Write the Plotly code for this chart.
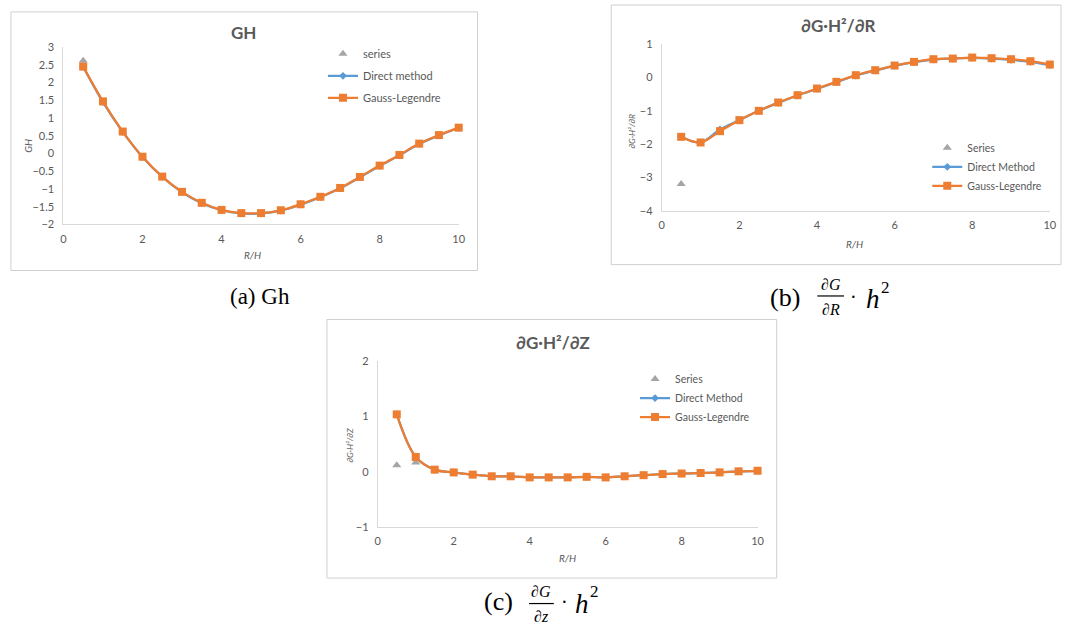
import plotly.graph_objects as go

W, H = 1069, 636

# ---------------- data ----------------
x_rh = [0.5, 1.0, 1.5, 2.0, 2.5, 3.0, 3.5, 4.0, 4.5, 5.0,
        5.5, 6.0, 6.5, 7.0, 7.5, 8.0, 8.5, 9.0, 9.5, 10.0]

# (a) GH
gh_gauss = [2.45, 1.47, 0.62, -0.09, -0.65, -1.08, -1.39, -1.59, -1.68, -1.68,
            -1.60, -1.43, -1.22, -0.97, -0.66, -0.34, -0.04, 0.28, 0.52, 0.73]
gh_direct = [2.45, 1.45, 0.61, -0.10, -0.66, -1.09, -1.40, -1.60, -1.69, -1.69,
             -1.61, -1.44, -1.23, -0.98, -0.67, -0.35, -0.05, 0.27, 0.51, 0.72]
gh_series_x = [0.5]
gh_series_y = [2.62]

# (b) dG*H^2/dR
dr_gauss = [-1.78, -1.95, -1.61, -1.28, -1.00, -0.75, -0.53, -0.33, -0.13, 0.07,
            0.22, 0.36, 0.47, 0.55, 0.57, 0.60, 0.58, 0.55, 0.49, 0.39]
dr_direct = [-1.78, -1.95, -1.56, -1.28, -1.00, -0.76, -0.54, -0.34, -0.14, 0.06,
             0.21, 0.35, 0.46, 0.54, 0.57, 0.59, 0.57, 0.53, 0.47, 0.37]
dr_series_x = [0.5]
dr_series_y = [-3.20]

# (c) dG*H^2/dZ
dz_gauss = [1.04, 0.27, 0.04, -0.01, -0.05, -0.08, -0.08, -0.10, -0.10, -0.10,
            -0.09, -0.10, -0.08, -0.06, -0.04, -0.03, -0.02, -0.01, 0.01, 0.02]
dz_direct = [1.04, 0.27, 0.04, -0.01, -0.05, -0.08, -0.08, -0.10, -0.10, -0.10,
             -0.09, -0.10, -0.08, -0.06, -0.04, -0.03, -0.02, -0.01, 0.01, 0.02]
dz_series_x = [0.5, 1.0]
dz_series_y = [0.12, 0.17]

x_ticks = [0, 2, 4, 6, 8, 10]
gh_ticks = [-2, -1.5, -1, -0.5, 0, 0.5, 1, 1.5, 2, 2.5, 3]
dr_ticks = [-4, -3, -2, -1, 0, 1]
dz_ticks = [-1, 0, 1, 2]

# ---------------- style ----------------
GRAY_TXT = "#595959"
AXIS_COL = "#D9D9D9"
BLUE = "#5B9BD5"
ORANGE = "#ED7D31"
TRI = "#A5A5A5"
SANS = "Lato, Open Sans, sans-serif"
SERIF = "Liberation Serif, DejaVu Serif, serif"


def px(x):
    return x / W


def py(y):
    return 1 - y / H


fig = go.Figure()


def add_panel(idx, ys_series_x, ys_series_y, direct, gauss, names, legend):
    xa = "x" if idx == 1 else f"x{idx}"
    ya = "y" if idx == 1 else f"y{idx}"
    fig.add_trace(go.Scatter(
        x=ys_series_x, y=ys_series_y, mode="markers", name=names[0],
        marker=dict(symbol="triangle-up", size=8, color=TRI),
        xaxis=xa, yaxis=ya, legend=legend, legendgroup=f"s{idx}", cliponaxis=False))
    fig.add_trace(go.Scatter(
        x=x_rh, y=direct, mode="lines+markers", name=names[1],
        line=dict(color=BLUE, width=2.25, shape="spline"),
        marker=dict(symbol="diamond", size=6, color=BLUE),
        xaxis=xa, yaxis=ya, legend=legend, legendgroup=f"d{idx}", cliponaxis=False))
    fig.add_trace(go.Scatter(
        x=x_rh, y=gauss, mode="lines+markers", name=names[2],
        line=dict(color=ORANGE, width=2.25, shape="spline"),
        marker=dict(symbol="square", size=8, color=ORANGE),
        xaxis=xa, yaxis=ya, legend=legend, legendgroup=f"g{idx}", cliponaxis=False))


add_panel(1, gh_series_x, gh_series_y, gh_direct, gh_gauss,
          ["series", "Direct method", "Gauss-Legendre"], "legend")
add_panel(2, dr_series_x, dr_series_y, dr_direct, dr_gauss,
          ["Series", "Direct Method", "Gauss-Legendre"], "legend2")
add_panel(3, dz_series_x, dz_series_y, dz_direct, dz_gauss,
          ["Series", "Direct Method", "Gauss-Legendre"], "legend3")


def xaxis_cfg(d0, d1, anchor):
    return dict(domain=[d0, d1], anchor=anchor, range=[0, 10], tickvals=x_ticks,
                showgrid=False, zeroline=False, showline=True, linecolor=AXIS_COL,
                linewidth=1, ticks="", tickfont=dict(family=SANS, size=11, color=GRAY_TXT),
                ticklabelstandoff=4, fixedrange=True)


def yaxis_cfg(d0, d1, anchor, rng, tv):
    return dict(domain=[d0, d1], anchor=anchor, range=rng, tickvals=tv,
                showgrid=False, zeroline=False, showline=True, linecolor=AXIS_COL,
                linewidth=1, ticks="", tickfont=dict(family=SANS, size=11, color=GRAY_TXT),
                ticklabelstandoff=6, fixedrange=True)


leg_common = dict(bgcolor="rgba(0,0,0,0)", xanchor="left", yanchor="top",
                  traceorder="grouped", itemwidth=30)

fig.update_layout(
    width=W, height=H, margin=dict(l=0, r=0, t=0, b=0),
    paper_bgcolor="white", plot_bgcolor="white",
    xaxis=xaxis_cfg(px(61), px(460), "y"),
    yaxis=yaxis_cfg(py(222), py(41), "x", [-2, 3], gh_ticks),
    xaxis2=xaxis_cfg(px(665), px(1056.7), "y2"),
    yaxis2=yaxis_cfg(py(208), py(38), "x2", [-4, 1], dr_ticks),
    xaxis3=xaxis_cfg(px(378.3), px(761.7), "y3"),
    yaxis3=yaxis_cfg(py(531), py(361.7), "x3", [-1, 2], dz_ticks),
    legend=dict(x=px(323), y=py(33), font=dict(family=SANS, size=11, color=GRAY_TXT),
                tracegroupgap=3, **leg_common),
    legend2=dict(x=px(933), y=py(129), font=dict(family=SANS, size=10.5, color=GRAY_TXT),
                 tracegroupgap=0, **leg_common),
    legend3=dict(x=px(638), y=py(365), font=dict(family=SANS, size=10.5, color=GRAY_TXT),
                 tracegroupgap=0, **leg_common),
)

# frames
for (x0, y0, x1, y1) in [(8, 5, 479, 269), (614, -2, 1068, 263), (327, 319, 781, 583)]:
    fig.add_shape(type="rect", xref="paper", yref="paper",
                  x0=px(x0), x1=px(x1), y0=py(y1), y1=py(y0),
                  line=dict(color="#D0D0D0", width=1), layer="below")

ann = []


def add_text(x, y, text, size, family=SANS, color=GRAY_TXT, angle=0, xanchor="center"):
    ann.append(dict(x=px(x), y=py(y), xref="paper", yref="paper", text=text,
                    showarrow=False, xanchor=xanchor, yanchor="middle", textangle=angle,
                    font=dict(family=family, size=size, color=color)))


# chart titles
add_text(243, 26, "<b>GH</b>", 17)
add_text(843, 19, "<b>∂G·H²/∂R</b>", 17)
add_text(555, 343, "<b>∂G·H²/∂Z</b>", 17)

# axis titles
add_text(252, 253, "<i>R/H</i>", 10)
add_text(25, 142, "<i>GH</i>", 10, angle=-90)
add_text(860, 242, "<i>R/H</i>", 10)
add_text(635, 127, "<i>∂G·H²/∂R</i>", 8.5, angle=-90)
add_text(570, 562, "<i>R/H</i>", 10)
add_text(350, 447, "<i>∂G·H²/∂Z</i>", 8.5, angle=-90)

# captions
BLACK = "#000000"
add_text(259, 296, "(a) Gh", 23, family=SERIF, color=BLACK)

# (b) caption
add_text(789, 297, "(b)", 26, family=SERIF, color=BLACK)
add_text(835.5, 283, "∂<i>G</i>", 16, family=SERIF, color=BLACK)
add_text(835.5, 309, "∂<i>R</i>", 16, family=SERIF, color=BLACK)
add_text(859, 296, "·", 20, family=SERIF, color=BLACK)
add_text(878, 298, "<i>h</i>", 27, family=SERIF, color=BLACK)
add_text(891, 286, "2", 17, family=SERIF, color=BLACK)

# (c) caption
add_text(500, 607, "(c)", 26, family=SERIF, color=BLACK)
add_text(543.5, 597, "∂<i>G</i>", 16, family=SERIF, color=BLACK)
add_text(543.5, 622, "∂<i>z</i>", 16, family=SERIF, color=BLACK)
add_text(567, 607, "·", 20, family=SERIF, color=BLACK)
add_text(584, 609, "<i>h</i>", 27, family=SERIF, color=BLACK)
add_text(597.5, 597, "2", 17, family=SERIF, color=BLACK)

fig.update_layout(annotations=ann)

# fraction bars
for (x0, x1, y) in [(822, 849, 295), (531, 556, 609)]:
    fig.add_shape(type="line", xref="paper", yref="paper",
                  x0=px(x0), x1=px(x1), y0=py(y), y1=py(y),
                  line=dict(color=BLACK, width=1.2))

fig.write_html(
    "out.html",
    config={"displayModeBar": False},
    post_script="document.body.style.margin='0px';document.body.style.overflow='hidden';",
)
